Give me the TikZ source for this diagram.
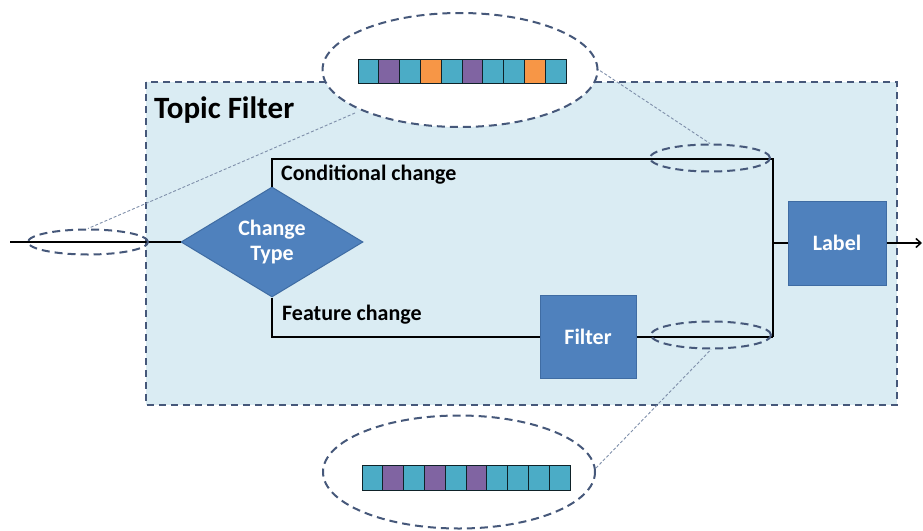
\documentclass[tikz,border=0pt]{standalone}
\usepackage{fontspec}
\setmainfont{Carlito}
\usetikzlibrary{shapes.geometric,arrows.meta}
\definecolor{boxblue}{HTML}{4F81BD}
\definecolor{boxedge}{HTML}{3F6CA3}
\definecolor{panel}{HTML}{DAECF3}
\definecolor{dashcol}{HTML}{46587A}
\definecolor{thincol}{HTML}{7F8FAA}
\definecolor{cteal}{HTML}{4BACC6}
\definecolor{cpurple}{HTML}{8064A2}
\definecolor{corange}{HTML}{F79646}
\tikzset{
  flow/.style={line width=2.2pt, black},
  blockbox/.style={draw=boxedge, line width=1pt, fill=boxblue, text=white,
    font=\fontsize{22}{24}\selectfont\bfseries, inner sep=0pt},
  decision/.style={diamond, draw=boxedge, line width=1pt, fill=boxblue, text=white,
    font=\fontsize{22}{24}\selectfont\bfseries, align=center, inner sep=0pt,
    minimum width=182pt, minimum height=110pt, aspect=1.65},
  zoomring/.style={draw=dashcol, line width=2pt, dash pattern=on 8pt off 5pt},
  leader/.style={draw=thincol, line width=0.9pt, dash pattern=on 3pt off 2pt},
  panelframe/.style={draw=dashcol, line width=1.6pt, dash pattern=on 7pt off 5pt, fill=panel},
  caption/.style={font=\fontsize{22}{24}\selectfont\bfseries, anchor=base west, inner sep=0pt},
  cell/.style={draw=black!80!cteal, line width=0.8pt}
}
\begin{document}
\begin{tikzpicture}[x=1pt,y=-1pt]
\useasboundingbox (0,0) rectangle (923,530);

% Topic Filter panel
\draw[panelframe] (146,82) rectangle (897,405);
\node[font=\fontsize{31}{33}\selectfont\bfseries, anchor=base west, inner sep=0pt]
  (title) at (154,118) {Topic Filter};

% blocks
\node[decision] (ctype) at (272,242) {Change\\[1pt]Type};
\node[blockbox, minimum width=96pt, minimum height=83pt] (filt) at (588,337) {Filter};
\node[blockbox, minimum width=98pt, minimum height=84pt] (lab) at (837,243) {Label};

% junction points
\coordinate (tr) at (773,159);
\coordinate (br) at (773,337);
\coordinate (lj) at (773,243);
\coordinate (inp) at (10,242);
\coordinate (outp) at (922,243);

% flow lines
\draw[flow] (inp) -- (ctype.west);
\draw[flow] (ctype.north) |- (tr) -- (br);
\draw[flow] (ctype.south) |- (filt.west);
\draw[flow] (filt.east) -- (br);
\draw[flow] (lj) -- (lab.west);
\draw[flow, -{Straight Barb[length=5pt,width=9pt,line width=1.5pt]}] (lab.east) -- (outp);

% branch captions
\node[caption] (cond) at (281,180) {Conditional change};
\node[caption] (feat) at (282,320) {Feature change};

% small rings on the lines
\node[zoomring, ellipse, minimum width=120pt, minimum height=25pt, inner sep=0pt] (ringin) at (88,242) {};
\node[zoomring, ellipse, minimum width=120pt, minimum height=27pt, inner sep=0pt] (ringtop) at (710,158) {};
\node[zoomring, ellipse, minimum width=120pt, minimum height=27pt, inner sep=0pt] (ringbot) at (711,335) {};

% leader lines to the enlarged views
\coordinate (lta) at (355,113);
\coordinate (ltb) at (596,68);
\coordinate (lbb) at (596,468);
\draw[leader] (lta) -- (ringin.north);
\draw[leader] (ltb) -- (ringtop.north);
\draw[leader] (lbb) -- (ringbot.south);

% enlarged view: conditional branch
\node[zoomring, ellipse, fill=white, minimum width=275pt, minimum height=114pt, inner sep=0pt] (bigtop) at (460,70) {};
\foreach \c [count=\i from 0] in {cteal,cpurple,cteal,corange,cteal,cpurple,cteal,cteal,corange,cteal}
  \filldraw[fill=\c, cell] (358+\i*20.8,59) rectangle ++(20.8,24);

% enlarged view: feature branch
\node[zoomring, ellipse, fill=white, minimum width=272pt, minimum height=113pt, inner sep=0pt] (bigbot) at (459,472) {};
\foreach \c [count=\i from 0] in {cteal,cpurple,cteal,cpurple,cteal,cpurple,cteal,cteal,cteal,cteal}
  \filldraw[fill=\c, cell] (362+\i*20.8,465) rectangle ++(20.8,25);
\end{tikzpicture}
\end{document}
